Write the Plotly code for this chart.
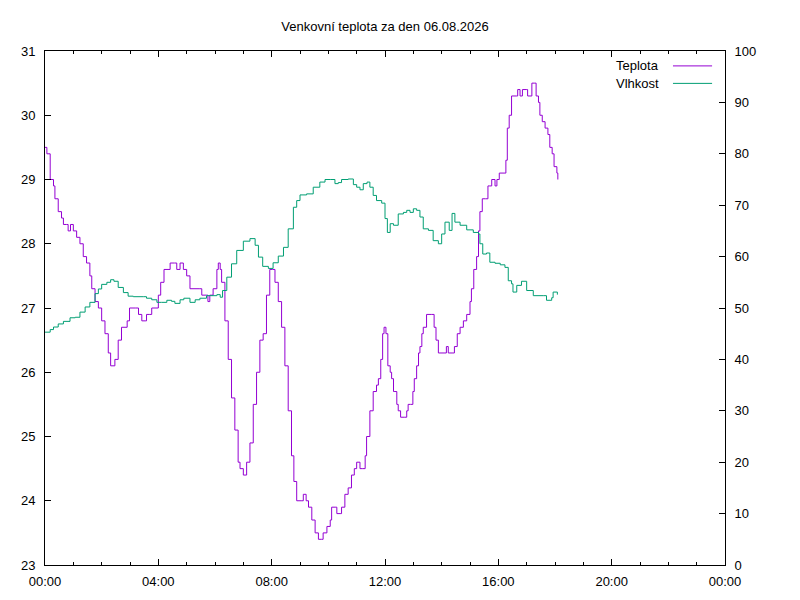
import plotly.graph_objects as go

# casy mereni v minutach od pulnoci
temp_minutes = [0, 4, 11, 18, 21, 28, 35, 39, 46, 49, 54, 60, 67, 74, 81, 88, 95, 99, 106, 113,
                120, 127, 134, 139, 148, 155, 162, 174, 179, 191, 198, 205, 212, 215, 222, 226, 233,
                240, 245, 252, 265, 274, 279, 286, 293, 300, 307, 328, 332, 342, 345, 349, 356, 364,
                367, 371, 374, 381, 388, 395, 402, 409, 413, 420, 427, 434, 441, 448, 455, 462, 469,
                476, 482, 487, 494, 501, 508, 515, 522, 527, 533, 544, 547, 553, 558, 565, 572, 579,
                585, 589, 597, 604, 607, 616, 618, 625, 628, 635, 642, 649, 655, 660, 667, 673, 678,
                681, 688, 695, 702, 706, 711, 715, 718, 722, 726, 731, 734, 738, 741, 745, 748, 753,
                762, 766, 769, 774, 779, 782, 787, 791, 794, 798, 801, 808, 819, 824, 828, 833, 847,
                850, 854, 862, 867, 873, 879, 886, 893, 900, 903, 908, 914, 918, 921, 926, 933, 938,
                942, 946, 953, 957, 962, 974, 976, 979, 983, 988, 999, 1001, 1006, 1011, 1019, 1022,
                1027, 1031, 1036, 1040, 1045, 1048, 1053, 1059, 1065, 1069, 1074, 1078, 1084, 1086]
temp_values = [29.5, 29.4, 29.0, 28.9, 28.7, 28.5, 28.4, 28.3, 28.3, 28.2, 28.3, 28.2, 28.1, 28.0,
               27.8, 27.7, 27.5, 27.3, 27.1, 27.0, 26.8, 26.6, 26.3, 26.1, 26.2, 26.5, 26.7, 26.8,
               27.0, 27.0, 26.9, 26.8, 26.8, 26.9, 26.9, 27.0, 27.0, 27.2, 27.4, 27.6, 27.7, 27.7,
               27.6, 27.7, 27.6, 27.5, 27.3, 27.3, 27.2, 27.2, 27.1, 27.2, 27.3, 27.6, 27.7, 27.6,
               27.4, 26.8, 26.2, 25.6, 25.1, 24.6, 24.5, 24.4, 24.6, 24.9, 25.5, 26.0, 26.5, 26.6,
               27.2, 27.6, 27.6, 27.4, 27.1, 26.7, 26.1, 25.4, 24.7, 24.3, 24.0, 24.0, 24.1, 24.0,
               23.9, 23.7, 23.5, 23.4, 23.4, 23.5, 23.6, 23.7, 23.9, 23.9, 23.8, 23.8, 23.9, 24.1,
               24.2, 24.4, 24.5, 24.6, 24.5, 24.5, 24.7, 25.0, 25.4, 25.7, 25.8, 25.9, 26.2, 26.6,
               26.7, 26.6, 26.1, 26.0, 25.9, 25.7, 25.7, 25.5, 25.4, 25.3, 25.3, 25.4, 25.5, 25.5,
               25.7, 25.9, 26.1, 26.3, 26.4, 26.6, 26.7, 26.9, 26.9, 26.7, 26.5, 26.3, 26.3, 26.4,
               26.3, 26.3, 26.4, 26.6, 26.7, 26.8, 26.9, 27.1, 27.3, 27.6, 27.8, 28.2, 28.5, 28.7,
               28.7, 28.9, 28.9, 29.0, 28.9, 29.0, 29.1, 29.1, 29.3, 29.8, 30.0, 30.3, 30.3, 30.4,
               30.3, 30.4, 30.4, 30.3, 30.3, 30.5, 30.5, 30.3, 30.2, 30.0, 29.9, 29.8, 29.7, 29.5,
               29.4, 29.2, 29.1, 29.0]

hum_minutes = [0, 11, 18, 28, 39, 53, 64, 74, 85, 95, 106, 113, 120, 131, 139, 146, 155, 166, 176,
               187, 208, 215, 226, 237, 247, 258, 268, 275, 286, 294, 307, 318, 328, 342, 364, 371,
               376, 385, 395, 406, 420, 434, 445, 452, 461, 473, 483, 494, 505, 515, 526, 533, 540,
               554, 568, 582, 593, 604, 614, 621, 628, 642, 653, 660, 667, 674, 682, 688, 695, 702,
               713, 720, 725, 731, 738, 748, 759, 766, 773, 780, 787, 794, 801, 812, 822, 833, 840,
               847, 856, 862, 868, 879, 893, 907, 918, 921, 927, 935, 942, 953, 964, 974, 981, 988,
               991, 999, 1009, 1020, 1034, 1055, 1062, 1073, 1076, 1085]
hum_values = [45.3, 45.8, 46.3, 46.9, 47.4, 48.1, 48.2, 49.2, 50.2, 51.1, 52.8, 53.7, 54.6, 55.0,
              55.5, 55.2, 54.0, 53.0, 52.3, 52.2, 52.2, 51.9, 51.6, 51.1, 51.1, 51.5, 51.3, 50.9,
              51.6, 51.9, 51.1, 51.6, 51.9, 52.4, 52.6, 52.1, 53.4, 56.0, 58.6, 61.2, 63.0, 63.5,
              62.2, 59.9, 58.1, 57.7, 58.8, 60.1, 61.8, 65.4, 69.6, 70.9, 72.0, 72.2, 73.5, 74.5,
              75.0, 75.0, 74.2, 74.4, 75.0, 75.1, 74.0, 73.5, 73.0, 74.2, 74.5, 73.5, 71.9, 70.9,
              70.4, 67.4, 64.7, 66.4, 66.1, 68.3, 68.6, 69.0, 68.6, 69.3, 69.0, 67.7, 65.4, 65.1,
              63.1, 62.5, 64.4, 66.7, 65.1, 68.4, 66.7, 66.1, 65.2, 64.7, 64.4, 62.5, 60.5, 60.7,
              58.9, 58.7, 58.4, 57.9, 55.3, 54.7, 53.1, 54.4, 55.2, 53.4, 52.4, 52.4, 51.5, 52.0,
              53.1, 52.6]

x_tickvals = [0, 240, 480, 720, 960, 1200, 1440]
x_ticktext = ["00:00", "04:00", "08:00", "12:00", "16:00", "20:00", "00:00"]

TEMP_COLOR = "#9400D3"
HUM_COLOR = "#009E73"
FONT = "Liberation Sans, Arial, sans-serif"
FSIZE = 13

fig = go.Figure()
fig.add_trace(go.Scatter(x=temp_minutes, y=temp_values, mode="lines", name="Teplota",
                         line=dict(color=TEMP_COLOR, width=1, shape="hv"), yaxis="y"))
fig.add_trace(go.Scatter(x=hum_minutes, y=hum_values, mode="lines", name="Vlhkost",
                         line=dict(color=HUM_COLOR, width=1, shape="hv"), yaxis="y2"))

# legenda po gnuplotovsku: text vlevo, vzorek cary vpravo
for i, (name, color) in enumerate([("Teplota", TEMP_COLOR), ("Vlhkost", HUM_COLOR)]):
    yy = 0.971 - i * 0.034
    fig.add_annotation(xref="paper", yref="paper", x=0.906, y=yy, text=name, showarrow=False,
                       xanchor="right", yanchor="middle", font=dict(size=FSIZE, color="#000"))
    fig.add_shape(type="line", xref="paper", yref="paper", x0=0.9235, x1=0.981, y0=yy, y1=yy,
                  line=dict(color=color, width=1))

axis_common = dict(showgrid=False, zeroline=False, showline=True, linecolor="black",
                   linewidth=1, ticks="inside", ticklen=6, tickcolor="black",
                   tickfont=dict(size=FSIZE, color="#000", family=FONT))

fig.update_layout(
    width=800, height=600,
    paper_bgcolor="white", plot_bgcolor="white",
    font=dict(family=FONT, size=FSIZE, color="#000"),
    margin=dict(l=45, r=75, t=51, b=35, autoexpand=False),
    showlegend=False,
    title=dict(text="Venkovní teplota za den 06.08.2026", xref="paper", x=0.5, xanchor="center",
               y=1 - 26 / 600, yanchor="middle", font=dict(size=FSIZE, color="#000")),
    xaxis=dict(range=[0, 1440], tickvals=x_tickvals, ticktext=x_ticktext, mirror="ticks",
               ticklabelstandoff=4,
               minor=dict(dtick=60, tick0=0, ticks="inside", ticklen=3, tickcolor="black"),
               **axis_common),
    yaxis=dict(range=[23, 31], dtick=1, mirror=False, ticklabelstandoff=6, **axis_common),
    yaxis2=dict(range=[0, 100], dtick=10, overlaying="y", side="right", ticklabelstandoff=6,
                **axis_common),
)

fig.write_html("out.html", config={"displayModeBar": False},
               post_script="document.body.style.margin='0px';")
